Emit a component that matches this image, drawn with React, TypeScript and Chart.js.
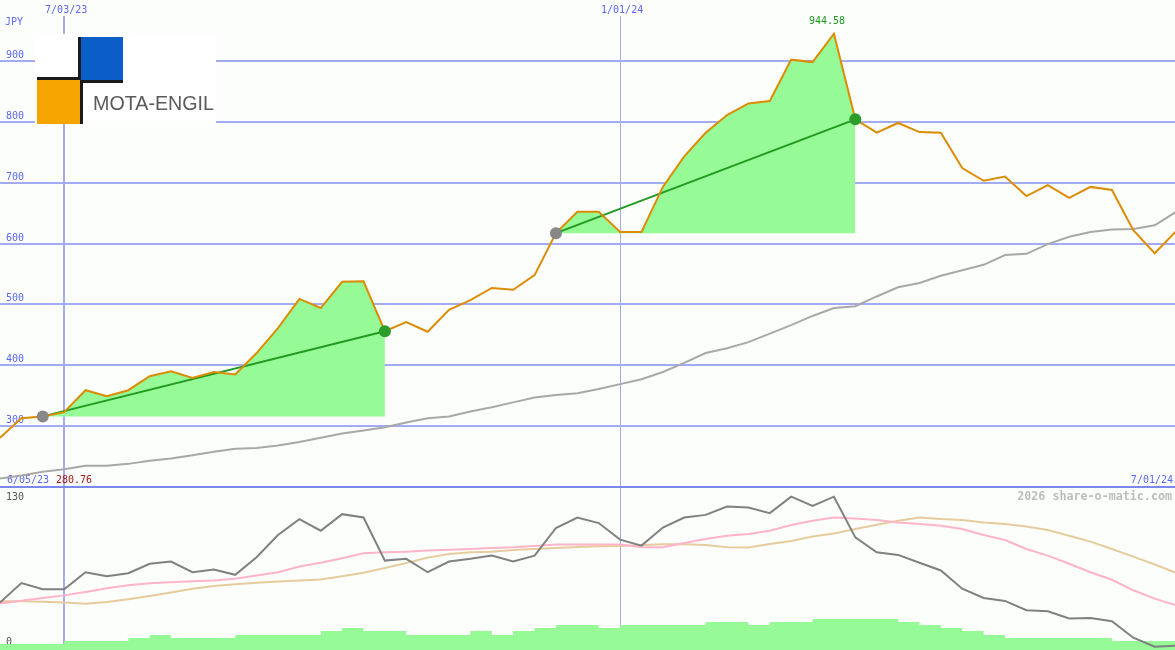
import { useEffect, useRef } from "react";
import { Chart, registerables } from "chart.js";

Chart.register(...registerables);

// ---------- data (weekly, index 0 = first week shown) ----------
const closePrice = [
  280.76, 313, 316, 323, 359, 349, 359, 382, 390, 379,
  389, 385, 420, 461, 509, 494, 537, 538, 456, 471,
  455, 491, 507, 527, 524, 548, 617, 652, 652, 619,
  619, 693, 743, 782, 811, 830, 834, 902, 898, 944.58,
  804, 782, 798, 783, 782, 724, 703, 710, 678, 696,
  675, 693, 688, 622, 584, 620,
];
const movingAvg = [
  214, 219, 225, 229, 235, 235, 238, 243, 247, 252,
  258, 263, 264, 268, 274, 281, 288, 293, 298, 306,
  313, 316, 324, 331, 339, 347, 351, 354, 361, 369,
  377, 389, 404, 420, 428, 438, 452, 466, 481, 494,
  497, 513, 528, 535, 547, 556, 565, 581, 583, 599,
  611, 619, 623, 624, 630, 652,
];
const oscGray = [
  38.3, 54.0, 49.0, 49.0, 62.8, 59.6, 62.0, 69.6, 71.4, 62.8,
  65.0, 60.7, 74.9, 92.8, 105.7, 96.3, 109.7, 107.0, 72.2, 73.6,
  62.8, 71.4, 73.6, 76.2, 71.4, 76.2, 98.5, 107.0, 102.5, 89.1,
  84.3, 98.9, 107.0, 109.1, 115.8, 115.0, 110.5, 123.8, 116.4, 123.8,
  90.9, 78.9, 76.8, 70.4, 64.2, 49.5, 42.0, 39.6, 32.1, 31.3,
  25.4, 25.9, 23.3, 9.9, 2.6, 3.5,
];
const oscPink = [
  37.5, 39.7, 41.9, 44.1, 46.9, 49.8, 52.2, 53.8, 54.8, 55.5,
  56.2, 57.5, 60.2, 62.8, 67.4, 70.4, 74.1, 78.1, 79.0, 79.4,
  80.3, 80.9, 81.6, 82.3, 82.9, 83.9, 85.1, 85.1, 85.1, 85.1,
  82.9, 82.9, 86.4, 89.6, 92.3, 93.7, 96.3, 100.9, 104.3, 107.0,
  106.2, 104.9, 103.0, 101.7, 100.3, 97.7, 92.8, 88.8, 81.6, 76.2,
  69.6, 62.8, 56.7, 48.2, 41.5, 36.1,
];
const oscTan = [
  39.3, 39.3, 38.9, 38.3, 37.3, 38.8, 40.9, 43.6, 46.5, 49.4,
  51.6, 53.0, 54.3, 55.4, 56.2, 57.0, 59.6, 62.4, 66.2, 70.2,
  74.6, 77.6, 79.0, 79.4, 80.8, 81.6, 82.4, 83.1, 83.7, 83.9,
  84.7, 85.3, 85.3, 84.8, 82.9, 82.7, 85.6, 88.0, 91.7, 94.1,
  97.7, 101.1, 104.3, 107.0, 105.7, 104.9, 103.0, 101.7, 99.8, 96.9,
  92.3, 87.5, 81.6, 75.4, 69.0, 62.4,
];
const volumeBars = [
  6, 6, 6, 9, 9, 9, 12, 15, 12, 12,
  12, 15, 15, 15, 15, 19, 22, 19, 19, 15,
  15, 15, 19, 15, 19, 22, 25, 25, 22, 25,
  25, 25, 25, 28, 28, 25, 28, 28, 31, 31,
  31, 31, 28, 25, 22, 19, 15, 12, 12, 12,
  12, 12, 9, 9, 9, 9,
];
const trendWindows = [
  [2, 18],
  [26, 40],
];
const priceTicks = [300, 400, 500, 600, 700, 800, 900];
const dateGridIdx = [3, 29];
const dateGridLabels = ["7/03/23", "1/01/24"];
const rangeStartLabel = "6/05/23";
const rangeEndLabel = "7/01/24";
const currencyLabel = "JPY";
const oscTopLabel = "130";
const oscBottomLabel = "0";
const watermark = "2026 share-o-matic.com";
const logoText = "MOTA-ENGIL";

// ---------- layout / style ----------
const W = 1175;
const TOP_H = 489;
const BOT_H = 161;
const X_MIN = 0;
const X_MAX = 54.95;
const BG = "#fcfefc";
const GRID = "#a3acf2";
const SEP = "#7a88f0";
const AXIS_TEXT = "#5b67f2";
const ORANGE = "#dc8c00";
const GREEN_FILL = "#96fa96";
const TREND = "#229a22";
const MONO = '"DejaVu Sans Mono", monospace';
const vLineWidths = [2, 1];

const pts = (arr: number[], start = 0) => arr.map((v, k) => ({ x: start + k, y: v }));

function drawLogo(ctx: CanvasRenderingContext2D) {
  ctx.save();
  ctx.fillStyle = "#ffffff";
  ctx.fillRect(35, 34, 181, 90);
  ctx.fillStyle = "#f5a400";
  ctx.fillRect(37, 80, 43, 44);
  ctx.fillStyle = "#0b5ec8";
  ctx.fillRect(81, 37, 42, 43);
  ctx.fillStyle = "#1a1a1a";
  ctx.fillRect(78, 37, 3, 43);
  ctx.fillRect(37, 77, 43, 3);
  ctx.fillRect(80, 80, 3, 44);
  ctx.fillRect(80, 80, 43, 3);
  ctx.fillStyle = "#5a5a5a";
  ctx.font = '21px "Liberation Sans", Arial, sans-serif';
  ctx.textBaseline = "alphabetic";
  ctx.textAlign = "left";
  ctx.fillText(logoText, 93, 110, 121);
  ctx.restore();
}

const topDecor = {
  id: "topDecor",
  beforeDraw(chart: any) {
    const { ctx, width, height } = chart;
    ctx.save();
    ctx.fillStyle = BG;
    ctx.fillRect(0, 0, width, height);
    ctx.restore();
  },
  beforeDatasetsDraw(chart: any) {
    const { ctx, width, chartArea } = chart;
    const x = chart.scales.x;
    const y = chart.scales.y;
    ctx.save();
    ctx.strokeStyle = GRID;
    ctx.lineWidth = 2;
    priceTicks.forEach((v) => {
      const py = Math.round(y.getPixelForValue(v));
      ctx.beginPath();
      ctx.moveTo(0, py);
      ctx.lineTo(width, py);
      ctx.stroke();
    });
    dateGridIdx.forEach((d, k) => {
      const px = Math.round(x.getPixelForValue(d)) + (vLineWidths[k] % 2 ? 0.5 : 0);
      ctx.lineWidth = vLineWidths[k];
      ctx.beginPath();
      ctx.moveTo(px, 16);
      ctx.lineTo(px, chartArea.bottom + 2);
      ctx.stroke();
    });
    ctx.font = "10px " + MONO;
    ctx.fillStyle = AXIS_TEXT;
    ctx.textBaseline = "alphabetic";
    ctx.textAlign = "left";
    priceTicks.forEach((v) => {
      ctx.fillText(String(v), 6, Math.round(y.getPixelForValue(v)) - 3);
    });
    ctx.fillText(currencyLabel, 5, 25);
    ctx.textAlign = "center";
    dateGridIdx.forEach((d, k) => {
      ctx.fillText(dateGridLabels[k], x.getPixelForValue(d) + 2, 13);
    });
    ctx.textAlign = "left";
    ctx.fillText(rangeStartLabel, 7, 483);
    ctx.fillStyle = "#a51515";
    ctx.fillText(closePrice[0].toFixed(2), 56, 483);
    ctx.fillStyle = AXIS_TEXT;
    ctx.textAlign = "right";
    ctx.fillText(rangeEndLabel, 1173, 483);
    ctx.restore();
  },
  afterDraw(chart: any) {
    const { ctx, width, chartArea } = chart;
    const x = chart.scales.x;
    const y = chart.scales.y;
    ctx.save();
    ctx.strokeStyle = SEP;
    ctx.lineWidth = 2;
    ctx.beginPath();
    ctx.moveTo(0, chartArea.bottom);
    ctx.lineTo(width, chartArea.bottom);
    ctx.stroke();
    const peak = Math.max(...closePrice);
    const pi = closePrice.indexOf(peak);
    ctx.font = "10px " + MONO;
    ctx.fillStyle = "#1d9a1d";
    ctx.textAlign = "center";
    ctx.fillText(peak.toFixed(2), x.getPixelForValue(pi) - 7, y.getPixelForValue(peak) - 10);
    ctx.restore();
    drawLogo(ctx);
  },
};

const botDecor = {
  id: "botDecor",
  beforeDraw(chart: any) {
    const { ctx, width, height } = chart;
    ctx.save();
    ctx.fillStyle = BG;
    ctx.fillRect(0, 0, width, height);
    ctx.restore();
  },
  beforeDatasetsDraw(chart: any) {
    const { ctx, height, width } = chart;
    const x = chart.scales.x;
    ctx.save();
    ctx.strokeStyle = GRID;
    dateGridIdx.forEach((d, k) => {
      const px = Math.round(x.getPixelForValue(d)) + (vLineWidths[k] % 2 ? 0.5 : 0);
      ctx.lineWidth = vLineWidths[k];
      ctx.beginPath();
      ctx.moveTo(px, 0);
      ctx.lineTo(px, height);
      ctx.stroke();
    });
    ctx.font = "10px " + MONO;
    ctx.fillStyle = "#555555";
    ctx.textAlign = "left";
    ctx.textBaseline = "alphabetic";
    ctx.fillText(oscTopLabel, 6, 11);
    ctx.fillText(oscBottomLabel, 6, 156);
    ctx.font = "bold 11.7px " + MONO;
    ctx.fillStyle = "#bdbdbd";
    ctx.textAlign = "right";
    ctx.fillText(watermark, width - 3, 11);
    ctx.restore();
  },
};

function topConfig(): any {
  const datasets: any[] = [];
  trendWindows.forEach(([a, b]) => {
    const ends = [
      { x: a, y: closePrice[a] },
      { x: b, y: closePrice[b] },
    ];
    datasets.push({
      data: pts(closePrice.slice(a, b + 1), a),
      fill: { value: closePrice[a] },
      backgroundColor: GREEN_FILL,
      borderColor: "rgba(0,0,0,0)",
      borderWidth: 0,
      pointRadius: 0,
      order: 5,
    });
    datasets.push({
      data: ends,
      borderColor: TREND,
      borderWidth: 2,
      pointRadius: 0,
      fill: false,
      order: 2,
    });
    datasets.push({
      data: ends,
      showLine: false,
      pointRadius: 6,
      pointBorderWidth: 0,
      pointBackgroundColor: ["#888888", "#2a9d2a"],
      pointBorderColor: ["#888888", "#2a9d2a"],
      fill: false,
      order: 0,
    });
  });
  datasets.push({
    data: pts(movingAvg),
    borderColor: "#a8a8a8",
    borderWidth: 2,
    pointRadius: 0,
    fill: false,
    order: 4,
  });
  datasets.push({
    data: pts(closePrice),
    borderColor: ORANGE,
    borderWidth: 2,
    pointRadius: 0,
    fill: false,
    order: 1,
  });
  return {
    type: "line",
    data: { datasets },
    options: {
      responsive: false,
      animation: false,
      devicePixelRatio: 1,
      events: [],
      layout: { autoPadding: false, padding: { left: 0, right: 0, top: 0, bottom: 2 } },
      plugins: { legend: { display: false }, tooltip: { enabled: false } },
      scales: {
        x: { type: "linear", display: false, min: X_MIN, max: X_MAX },
        y: { type: "linear", display: false, min: 200, max: 1000 },
      },
    },
    plugins: [topDecor],
  };
}

function botConfig(): any {
  return {
    type: "line",
    data: {
      datasets: [
        {
          data: pts(volumeBars),
          yAxisID: "yv",
          stepped: "before",
          fill: "origin",
          backgroundColor: GREEN_FILL,
          borderColor: "rgba(0,0,0,0)",
          borderWidth: 0,
          pointRadius: 0,
          order: 5,
        },
        { data: pts(oscTan), yAxisID: "y", borderColor: "#e6cc9c", borderWidth: 2, pointRadius: 0, fill: false, order: 3 },
        { data: pts(oscPink), yAxisID: "y", borderColor: "#ffb4c8", borderWidth: 2, pointRadius: 0, fill: false, order: 2 },
        { data: pts(oscGray), yAxisID: "y", borderColor: "#808080", borderWidth: 2, pointRadius: 0, fill: false, order: 1 },
      ],
    },
    options: {
      responsive: false,
      animation: false,
      devicePixelRatio: 1,
      events: [],
      layout: { autoPadding: false, padding: 0 },
      plugins: { legend: { display: false }, tooltip: { enabled: false } },
      scales: {
        x: { type: "linear", display: false, min: X_MIN, max: X_MAX },
        y: { type: "linear", display: false, min: 0, max: 130 },
        yv: { type: "linear", display: false, min: 0, max: 161 },
      },
    },
    plugins: [botDecor],
  };
}

export default function App() {
  const topRef = useRef<HTMLCanvasElement>(null);
  const botRef = useRef<HTMLCanvasElement>(null);
  useEffect(() => {
    document.body.style.margin = "0";
    const c1 = new Chart(topRef.current as HTMLCanvasElement, topConfig());
    const c2 = new Chart(botRef.current as HTMLCanvasElement, botConfig());
    return () => {
      c1.destroy();
      c2.destroy();
    };
  }, []);
  return (
    <div style={{ position: "relative", width: W, height: TOP_H + BOT_H, background: BG }}>
      <canvas
        ref={topRef}
        width={W}
        height={TOP_H}
        style={{ position: "absolute", left: 0, top: 0, width: W, height: TOP_H, display: "block" }}
      />
      <canvas
        ref={botRef}
        width={W}
        height={BOT_H}
        style={{ position: "absolute", left: 0, top: TOP_H, width: W, height: BOT_H, display: "block" }}
      />
    </div>
  );
}
